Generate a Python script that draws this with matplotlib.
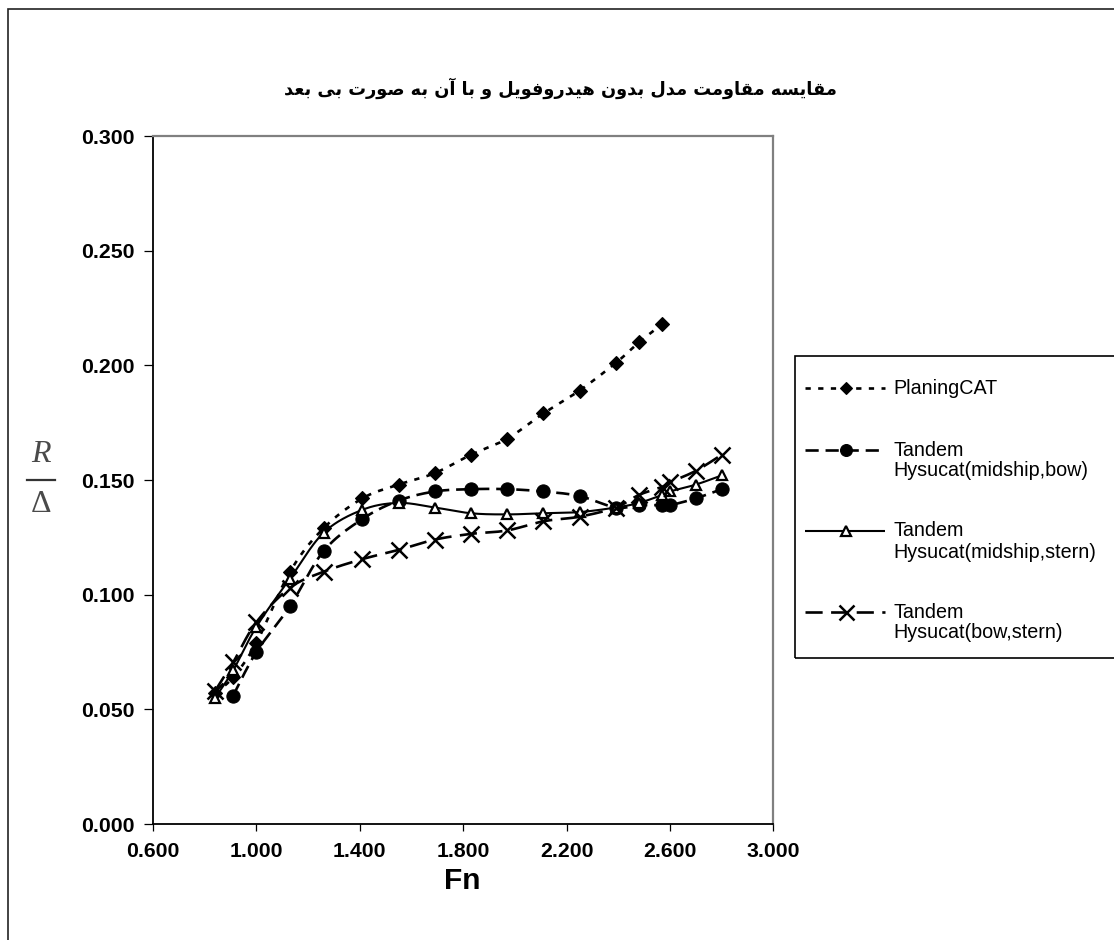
import numpy as np
import matplotlib
matplotlib.use("Agg")
import matplotlib.pyplot as plt
from matplotlib.lines import Line2D
from matplotlib.patches import Rectangle
from matplotlib.ticker import FormatStrFormatter

# ---------------- data ----------------
fn = [0.84, 0.91, 1.00, 1.13, 1.26, 1.41, 1.55, 1.69, 1.83, 1.97, 2.11, 2.25,
      2.39, 2.48, 2.57, 2.60, 2.70, 2.80]

planing_x = fn[:15]
planing_y = [0.057, 0.064, 0.079, 0.110, 0.129, 0.142, 0.148, 0.153, 0.161,
             0.168, 0.179, 0.189, 0.201, 0.210, 0.218]

mid_bow_x = fn[1:]
mid_bow_y = [0.056, 0.075, 0.095, 0.119, 0.133, 0.141, 0.145, 0.146, 0.146,
             0.145, 0.143, 0.138, 0.139, 0.139, 0.139, 0.142, 0.146]

mid_stern_x = fn
mid_stern_y = [0.055, 0.067, 0.086, 0.107, 0.127, 0.137, 0.140, 0.138, 0.1355,
               0.135, 0.1355, 0.136, 0.138, 0.140, 0.1435, 0.145, 0.148, 0.152]

bow_stern_x = fn
bow_stern_y = [0.058, 0.0705, 0.088, 0.103, 0.110, 0.1155, 0.1195, 0.124, 0.1265,
               0.128, 0.132, 0.134, 0.138, 0.1435, 0.147, 0.149, 0.154, 0.161]

labels = ["PlaningCAT",
          "Tandem\nHysucat(midship,bow)",
          "Tandem\nHysucat(midship,stern)",
          "Tandem\nHysucat(bow,stern)"]

xticks = [0.6, 1.0, 1.4, 1.8, 2.2, 2.6, 3.0]
yticks = [0.0, 0.05, 0.10, 0.15, 0.20, 0.25, 0.30]

title_fa = "مقایسه مقاومت مدل بدون هیدروفویل و با آن به صورت بی بعد"

# ---------------- helpers ----------------
W, H = 1114, 940


def fx(x):
    return x / W


def fy(y):
    return 1 - y / H


FORMS = {
    '\u0627': ('\uFE8D', '\uFE8E', None, None),
    '\u0622': ('\uFE81', '\uFE82', None, None),
    '\u0628': ('\uFE8F', '\uFE90', '\uFE91', '\uFE92'),
    '\u062A': ('\uFE95', '\uFE96', '\uFE97', '\uFE98'),
    '\u062F': ('\uFEA9', '\uFEAA', None, None),
    '\u0631': ('\uFEAD', '\uFEAE', None, None),
    '\u0633': ('\uFEB1', '\uFEB2', '\uFEB3', '\uFEB4'),
    '\u0635': ('\uFEB9', '\uFEBA', '\uFEBB', '\uFEBC'),
    '\u0639': ('\uFEC9', '\uFECA', '\uFECB', '\uFECC'),
    '\u0641': ('\uFED1', '\uFED2', '\uFED3', '\uFED4'),
    '\u0642': ('\uFED5', '\uFED6', '\uFED7', '\uFED8'),
    '\u0644': ('\uFEDD', '\uFEDE', '\uFEDF', '\uFEE0'),
    '\u0645': ('\uFEE1', '\uFEE2', '\uFEE3', '\uFEE4'),
    '\u0646': ('\uFEE5', '\uFEE6', '\uFEE7', '\uFEE8'),
    '\u0647': ('\uFEE9', '\uFEEA', '\uFEEB', '\uFEEC'),
    '\u0648': ('\uFEED', '\uFEEE', None, None),
    '\u06CC': ('\uFEEF', '\uFEF0', '\uFEF3', '\uFEF4'),
    '\u064A': ('\uFEEF', '\uFEF0', '\uFEF3', '\uFEF4'),
}


def shape_rtl(s):
    out = []
    n = len(s)
    for i, c in enumerate(s):
        if c not in FORMS:
            out.append(c)
            continue
        f = FORMS[c]
        prev = s[i - 1] if i > 0 else None
        nxt = s[i + 1] if i < n - 1 else None
        pj = prev in FORMS and FORMS[prev][2] is not None
        nj = nxt in FORMS and f[2] is not None
        if pj and nj:
            out.append(f[3])
        elif pj:
            out.append(f[1])
        elif nj:
            out.append(f[2])
        else:
            out.append(f[0])
    return "".join(out)[::-1]


def smooth(xs, ys, xr, yr, n=24):
    # Catmull-Rom (Excel-like smoothed line) in normalized space
    x = (np.asarray(xs) - xr[0]) / (xr[1] - xr[0])
    y = (np.asarray(ys) - yr[0]) / (yr[1] - yr[0])
    P = np.column_stack([x, y])
    P = np.vstack([P[0], P, P[-1]])
    pts = []
    t = np.linspace(0, 1, n, endpoint=False)
    for i in range(1, len(P) - 2):
        p0, p1, p2, p3 = P[i - 1], P[i], P[i + 1], P[i + 2]
        c1 = p1 + (p2 - p0) / 6.0
        c2 = p2 - (p3 - p1) / 6.0
        for tt in t:
            b = ((1 - tt) ** 3) * p1 + 3 * ((1 - tt) ** 2) * tt * c1 \
                + 3 * (1 - tt) * tt ** 2 * c2 + tt ** 3 * p2
            pts.append(b)
    pts.append(P[-2])
    pts = np.array(pts)
    return (pts[:, 0] * (xr[1] - xr[0]) + xr[0],
            pts[:, 1] * (yr[1] - yr[0]) + yr[0])


# ---------------- figure ----------------
plt.rcParams['font.family'] = ['Liberation Sans', 'DejaVu Sans']
fig = plt.figure(figsize=(W / 100, H / 100), dpi=100)

# outer chart border (extends past right / bottom edge)
fig.add_artist(Rectangle((fx(8), fy(1100)), fx(1300), fy(9) - fy(1100),
                         transform=fig.transFigure, fill=False,
                         edgecolor='#222222', linewidth=1.2, clip_on=False))

ax_l, ax_r, ax_t, ax_b = 153, 773.4, 136, 824
ax = fig.add_axes([fx(ax_l), fy(ax_b), fx(ax_r - ax_l), (ax_b - ax_t) / H])

xr = (0.6, 3.0)
yr = (0.0, 0.3)
ax.set_xlim(*xr)
ax.set_ylim(*yr)

styles = [
    dict(x=planing_x, y=planing_y, ls=(0, (2.0, 2.8)), lw=1.9, marker='D',
         ms=6.8, mfc='black', mec='black', mew=0.8),
    dict(x=mid_bow_x, y=mid_bow_y, ls=(0, (5.0, 2.6)), lw=1.9, marker='o',
         ms=9.5, mfc='black', mec='black', mew=0.8),
    dict(x=mid_stern_x, y=mid_stern_y, ls='-', lw=1.5, marker='^',
         ms=7.5, mfc='white', mec='black', mew=1.6),
    dict(x=bow_stern_x, y=bow_stern_y, ls=(0, (6.5, 3.2)), lw=1.9, marker='x',
         ms=12, mfc='black', mec='black', mew=1.8),
]

for st in styles:
    sx, sy = smooth(st['x'], st['y'], xr, yr)
    ax.plot(sx, sy, color='black', linestyle=st['ls'], linewidth=st['lw'],
            zorder=2, solid_capstyle='butt', dash_capstyle='butt')
    ax.plot(st['x'], st['y'], linestyle='none', marker=st['marker'],
            markersize=st['ms'], markerfacecolor=st['mfc'],
            markeredgecolor=st['mec'], markeredgewidth=st['mew'], zorder=3)

ax.set_xticks(xticks)
ax.set_yticks(yticks)
ax.xaxis.set_major_formatter(FormatStrFormatter('%.3f'))
ax.yaxis.set_major_formatter(FormatStrFormatter('%.3f'))
for lab in ax.get_xticklabels() + ax.get_yticklabels():
    lab.set_fontweight('bold')
    lab.set_fontsize(15.3)
ax.tick_params(axis='y', direction='out', length=6.5, width=0.9, pad=6.5)
ax.tick_params(axis='x', direction='out', length=5, width=0.9, pad=8)

for s in ('left', 'bottom'):
    ax.spines[s].set_color('black')
    ax.spines[s].set_linewidth(1.3)
for s in ('top', 'right'):
    ax.spines[s].set_color('#808080')
    ax.spines[s].set_linewidth(1.6)

# x label
fig.text(fx(462), fy(881), "Fn", ha='center', va='center',
         fontsize=21.5, fontweight='bold')

# y label as fraction R / Δ
fig.text(fx(41), fy(454), "R", ha='center', va='center', fontsize=23,
         family='Liberation Serif', style='italic', color='#4a4a4a')
fig.add_artist(Line2D([fx(27), fx(55)], [fy(480), fy(480)],
                      transform=fig.transFigure, color='#333333', linewidth=1.6))
fig.text(fx(41), fy(505), "Δ", ha='center', va='center', fontsize=23,
         family='Liberation Serif', color='#4a4a4a')

# title
fig.text(fx(560), fy(88), shape_rtl(title_fa), ha='center', va='center',
         fontsize=12.8, fontweight='bold', family=['DejaVu Sans'])

# legend (manual)
leg_l, leg_t, leg_b = 795, 356, 658
fig.add_artist(Rectangle((fx(leg_l), fy(leg_b)), fx(1300 - leg_l),
                         (leg_b - leg_t) / H, transform=fig.transFigure,
                         fill=False, edgecolor='black', linewidth=1.2,
                         clip_on=False))
rows = [388, 450, 531, 612]
for st, lab, ry in zip(styles, labels, rows):
    fig.add_artist(Line2D([fx(805), fx(885)], [fy(ry), fy(ry)],
                          transform=fig.transFigure, color='black',
                          linestyle=st['ls'], linewidth=st['lw'],
                          dash_capstyle='butt', solid_capstyle='butt'))
    fig.add_artist(Line2D([fx(846)], [fy(ry)], transform=fig.transFigure,
                          linestyle='none', marker=st['marker'],
                          markersize=st['ms'] * 0.9,
                          markerfacecolor=st['mfc'], markeredgecolor=st['mec'],
                          markeredgewidth=st['mew']))
    lines = lab.split("\n")
    for k, t in enumerate(lines):
        fig.text(fx(893), fy(ry + k * 21), t, ha='left', va='center',
                 fontsize=14.2)

fig.savefig("out.png", dpi=100, facecolor='white')
